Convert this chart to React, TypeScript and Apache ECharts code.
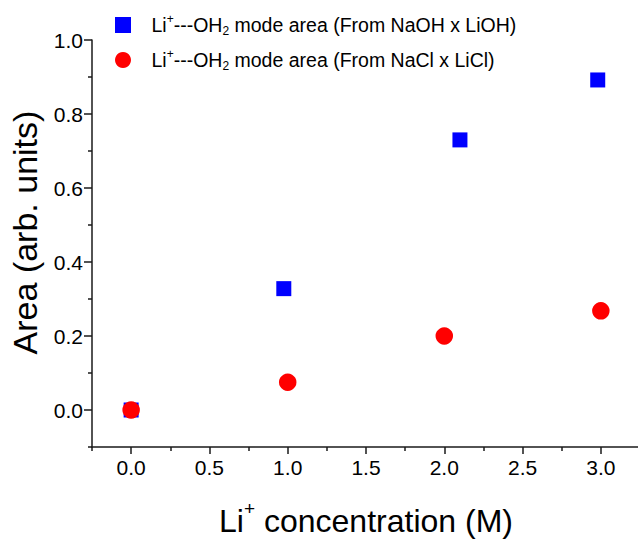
import React, { useEffect, useRef } from "react";
import * as echarts from "echarts";

const seriesNames = ["NaOH x LiOH", "NaCl x LiCl"];
const hydroxideX = [0, 0.975, 2.1, 2.98];
const hydroxideY = [0, 0.328, 0.73, 0.892];
const chlorideX = [0, 1.0, 2.0, 3.0];
const chlorideY = [0, 0.075, 0.2, 0.268];

const xMajorTicks = [0, 0.5, 1.0, 1.5, 2.0, 2.5, 3.0];
const xMinorTicks = [-0.25, 0.25, 0.75, 1.25, 1.75, 2.25, 2.75, 3.25];
const yMajorTicks = [0, 0.2, 0.4, 0.6, 0.8, 1.0];
const yMinorTicks = [-0.1, 0.1, 0.3, 0.5, 0.7, 0.9];

const FONT = "Liberation Sans, Arial, sans-serif";
const AXIS_COLOR = "#1a1a1a";

export default function App() {
  const ref = useRef<HTMLDivElement>(null);

  useEffect(() => {
    if (!ref.current) return;
    const chart = echarts.init(ref.current, null, { renderer: "svg" });

    const xRange = { min: -0.25, max: 3.25 };
    const yRange = { min: -0.1, max: 1.0 };

    const option: any = {
      animation: false,
      backgroundColor: "#ffffff",
      textStyle: { fontFamily: FONT },
      grid: { left: 92, top: 40, right: -2, bottom: 94, containLabel: false, outerBoundsMode: "none" },
      legend: {
        orient: "vertical",
        left: 110,
        top: 8,
        itemWidth: 47,
        itemHeight: 16,
        itemGap: 11,
        symbolKeepAspect: true,
        data: [
          { name: seriesNames[0], icon: "path://M0,0h1v1h-1z" },
          { name: seriesNames[1], icon: "circle" },
        ],
        formatter: (name: string) =>
          "Li{sup|+}---OH{sub|2} mode area (From " + name + ")",
        textStyle: {
          fontFamily: FONT,
          fontSize: 19.5,
          lineHeight: 24,
          color: "#000",
          rich: {
            sup: { fontSize: 12, lineHeight: 12, verticalAlign: "top", fontFamily: FONT, color: "#000" },
            sub: { fontSize: 12, lineHeight: 12, verticalAlign: "bottom", fontFamily: FONT, color: "#000", padding: [4, 0, 0, 0] },
          },
        },
      },
      xAxis: [
        {
          type: "value",
          ...xRange,
          position: "bottom",
          axisLine: { show: true, onZero: false, lineStyle: { color: AXIS_COLOR, width: 1.5 } },
          axisTick: { show: true, inside: false, length: 7, customValues: xMajorTicks, lineStyle: { color: AXIS_COLOR, width: 1.5 } },
          axisLabel: {
            show: true,
            customValues: xMajorTicks,
            formatter: (v: number) => v.toFixed(1),
            fontSize: 21,
            color: "#000",
            fontFamily: FONT,
            margin: 10,
          },
          splitLine: { show: false },
          name: "Li{sup|+} concentration (M)",
          nameLocation: "middle",
          nameGap: 52,
          nameTextStyle: {
            fontSize: 32,
            lineHeight: 44,
            color: "#000",
            fontFamily: FONT,
            rich: { sup: { fontSize: 19, lineHeight: 22, verticalAlign: "top", fontFamily: FONT, color: "#000" } },
          },
        },
        {
          type: "value",
          ...xRange,
          position: "bottom",
          axisLine: { show: false, onZero: false },
          axisTick: { show: true, inside: false, length: 4, customValues: xMinorTicks, lineStyle: { color: AXIS_COLOR, width: 1.5 } },
          axisLabel: { show: false },
          splitLine: { show: false },
        },
      ],
      yAxis: [
        {
          type: "value",
          ...yRange,
          position: "left",
          axisLine: { show: true, onZero: false, lineStyle: { color: AXIS_COLOR, width: 1.5 } },
          axisTick: { show: true, inside: false, length: 8, customValues: yMajorTicks, lineStyle: { color: AXIS_COLOR, width: 1.5 } },
          axisLabel: {
            show: true,
            customValues: yMajorTicks,
            formatter: (v: number) => v.toFixed(1),
            fontSize: 21,
            color: "#000",
            fontFamily: FONT,
            margin: 9,
          },
          splitLine: { show: false },
          name: "Area (arb. units)",
          nameLocation: "middle",
          nameGap: 50,
          nameTextStyle: { fontSize: 34, color: "#000", fontFamily: FONT, padding: [0, 0, 0, 22] },
        },
        {
          type: "value",
          ...yRange,
          position: "left",
          offset: 0,
          axisLine: { show: false, onZero: false },
          axisTick: { show: true, inside: false, length: 4, customValues: yMinorTicks, lineStyle: { color: AXIS_COLOR, width: 1.5 } },
          axisLabel: { show: false },
          splitLine: { show: false },
        },
      ],
      series: [
        {
          name: seriesNames[0],
          type: "scatter",
          xAxisIndex: 0,
          yAxisIndex: 0,
          symbol: "rect",
          symbolSize: 15,
          itemStyle: { color: "#0000ff", opacity: 1 },
          data: hydroxideX.map((x, i) => [x, hydroxideY[i]]),
          z: 2,
        },
        {
          name: seriesNames[1],
          type: "scatter",
          xAxisIndex: 0,
          yAxisIndex: 0,
          symbol: "circle",
          symbolSize: 17.5,
          itemStyle: { color: "#ff0000", opacity: 1 },
          data: chlorideX.map((x, i) => [x, chlorideY[i]]),
          z: 3,
        },
      ],
    };

    chart.setOption(option);
    return () => chart.dispose();
  }, []);

  return (
    <div
      ref={ref}
      style={{ position: "fixed", left: 0, top: 0, width: 638, height: 541, background: "#fff" }}
    />
  );
}
